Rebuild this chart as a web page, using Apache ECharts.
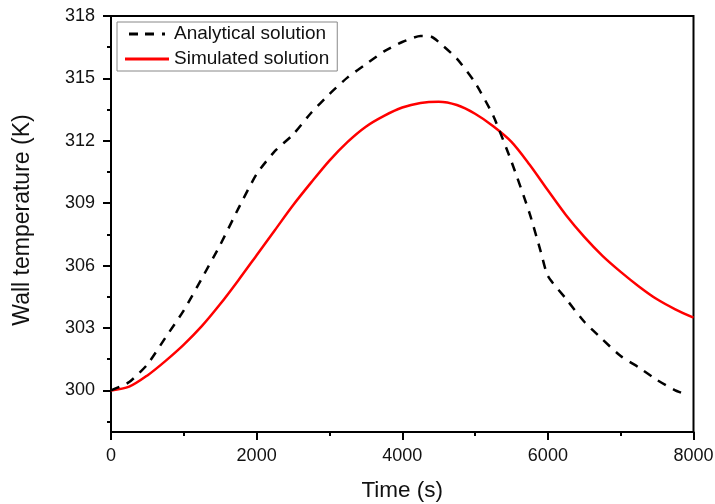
<!DOCTYPE html>
<html>
<head>
<meta charset="utf-8">
<script src="https://cdn.jsdelivr.net/npm/echarts@6/dist/echarts.min.js"></script>
<style>
html,body{margin:0;padding:0;background:#fff;}
#chart{width:715px;height:504px;}
</style>
</head>
<body>
<div id="chart"></div>
<script>
// Analytical solution
var analyticalTime = [0,250,500,750,1000,1250,1500,1750,2000,2250,2500,2750,3000,3250,3500,3750,4000,4250,4400,4500,4750,5000,5250,5500,5750,5900,6000,6250,6500,6750,7000,7250,7500,7750,7900];
var analyticalTemp = [300.0,300.4,301.25,302.55,303.85,305.4,307.0,308.75,310.4,311.5,312.3,313.35,314.25,315.05,315.68,316.3,316.75,317.04,317.0,316.75,315.95,314.8,313.2,311.0,308.5,306.7,305.5,304.4,303.3,302.45,301.65,301.1,300.5,300.0,299.8];
// Simulated solution
var simulatedTime = [0,250,500,750,1000,1250,1500,1750,2000,2250,2500,2750,3000,3250,3500,3750,4000,4250,4500,4750,5000,5250,5500,5750,6000,6250,6500,6750,7000,7250,7500,7750,8000];
var simulatedTemp = [300.0,300.18,300.72,301.42,302.2,303.1,304.15,305.3,306.5,307.7,308.9,310.0,311.05,311.95,312.68,313.2,313.6,313.82,313.88,313.72,313.3,312.7,311.95,310.85,309.62,308.42,307.38,306.47,305.7,305.0,304.38,303.9,303.5];
// Axis ticks
var yLabelValues = [300,303,306,309,312,315,318];
var yMinorValues = [298.5,301.5,304.5,307.5,310.5,313.5,316.5];
var seriesNames = ['Analytical solution','Simulated solution'];

function pairs(xs, ys){ return xs.map(function(x,i){ return [x, ys[i]]; }); }

var FONT = '"Liberation Sans", Arial, sans-serif';
var chart = echarts.init(document.getElementById('chart'), null, {renderer:'canvas'});
chart.setOption({
  animation:false,
  backgroundColor:'#ffffff',
  grid:{left:111, right:21.5, top:16, bottom:72, outerBoundsMode:'none', containLabel:false, show:true, borderColor:'#000', borderWidth:2, backgroundColor:'transparent'},
  legend:{
    orient:'vertical', left:117, top:22,
    padding:[2,8,2,8], itemGap:5, itemWidth:44, itemHeight:3,
    borderColor:'#888', borderWidth:1, borderRadius:0,
    backgroundColor:'#fff',
    textStyle:{fontFamily:FONT, fontSize:19, color:'#111', lineHeight:20},
    data:[
      {name:seriesNames[0], icon:'path://M0,0h9v3h-9z M16,0h9v3h-9z M33,0h3v3h-3z', itemStyle:{color:'#000'}},
      {name:seriesNames[1], icon:'path://M0,0h44v3h-44z', itemStyle:{color:'#ff0000'}}
    ]
  },
  xAxis:{
    type:'value', min:0, max:8000, interval:2000,
    name:'Time (s)', nameLocation:'middle', nameGap:47,
    nameTextStyle:{fontFamily:FONT, fontSize:22.5, color:'#111'},
    axisLine:{show:true, onZero:false, lineStyle:{color:'#000', width:2}},
    axisTick:{show:true, length:8, lineStyle:{color:'#000', width:2}},
    minorTick:{show:true, splitNumber:2, length:4, lineStyle:{color:'#000', width:2}},
    axisLabel:{fontFamily:FONT, fontSize:18, color:'#111', margin:15, formatter:function(v){return String(v);}},
    splitLine:{show:false}
  },
  yAxis:[{
    type:'value', min:298, max:318,
    name:'Wall temperature (K)', nameLocation:'middle', nameGap:77,
    nameTextStyle:{fontFamily:FONT, fontSize:23, color:'#111', padding:[0,0,0,8]},
    axisLine:{show:true, onZero:false, lineStyle:{color:'#000', width:2}},
    axisTick:{show:true, length:8, customValues:yLabelValues, lineStyle:{color:'#000', width:2}},
    axisLabel:{fontFamily:FONT, fontSize:18, color:'#111', margin:16, customValues:yLabelValues, formatter:function(v){return String(v);}},
    splitLine:{show:false}
  },{
    type:'value', min:298, max:318, position:'left',
    axisLine:{show:false},
    axisTick:{show:true, length:4, customValues:yMinorValues, lineStyle:{color:'#000', width:2}},
    axisLabel:{show:false},
    splitLine:{show:false}
  }],
  series:[{
    name:seriesNames[0], type:'line', yAxisIndex:0,
    data:pairs(analyticalTime, analyticalTemp),
    symbol:'none', smooth:0.2,
    lineStyle:{color:'#000', width:2.5, type:[9,8]},
    itemStyle:{color:'#000'}, z:3
  },{
    name:seriesNames[1], type:'line', yAxisIndex:0,
    data:pairs(simulatedTime, simulatedTemp),
    symbol:'none', smooth:0.3,
    lineStyle:{color:'#ff0000', width:2.5},
    itemStyle:{color:'#ff0000'}, z:2
  }]
});
</script>
</body>
</html>
